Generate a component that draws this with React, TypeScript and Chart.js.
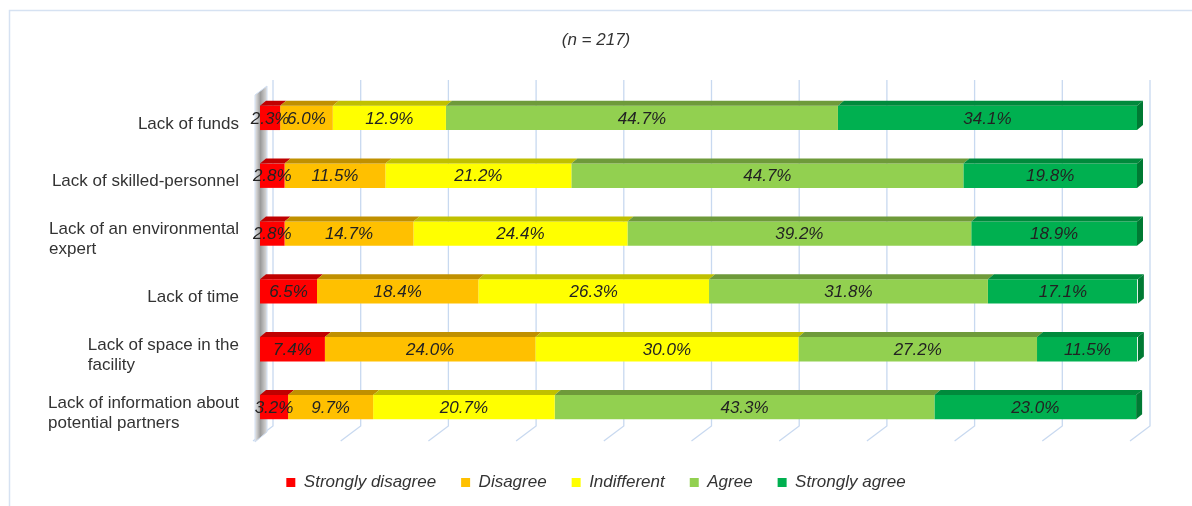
import React, { useEffect, useRef } from "react";
import { Chart, registerables } from "chart.js";
Chart.register(...registerables);

const categories: string[][] = [
  ["Lack of funds"],
  ["Lack of skilled-personnel"],
  ["Lack of an environmental", "expert"],
  ["Lack of time"],
  ["Lack of space in the", "facility"],
  ["Lack of information about", "potential partners"],
];
const seriesNames = ["Strongly disagree", "Disagree", "Indifferent", "Agree", "Strongly agree"];
const stronglyDisagree = [2.3, 2.8, 2.8, 6.5, 7.4, 3.2];
const disagree = [6.0, 11.5, 14.7, 18.4, 24.0, 9.7];
const indifferent = [12.9, 21.2, 24.4, 26.3, 30.0, 20.7];
const agree = [44.7, 44.7, 39.2, 31.8, 27.2, 43.3];
const stronglyAgree = [34.1, 19.8, 18.9, 17.1, 11.5, 23.0];
const gridTicks = [0, 10, 20, 30, 40, 50, 60, 70, 80, 90, 100];
const titleText = "(n = 217)";

const frontColors = ["#FF0000", "#FFC000", "#FFFF00", "#92D050", "#00B050"];
const topColors = ["#C00000", "#C09000", "#C0C000", "#6E9A3A", "#008A3C"];
const sideColor = "#007A33";
const FONT = "'Liberation Sans', Arial, sans-serif";
const TEXT = "#333333";
const DX = 6;
const DY = 5;

const framePlugin = {
  id: "frame",
  beforeDraw(chart: any) {
    const ctx = chart.ctx;
    ctx.save();
    ctx.fillStyle = "#ffffff";
    ctx.fillRect(0, 0, chart.width, chart.height);
    ctx.strokeStyle = "#D6E2F2";
    ctx.lineWidth = 1.5;
    ctx.strokeRect(9.5, 10.5, chart.width + 40, chart.height + 40);
    ctx.restore();
  },
};

const gridPlugin = {
  id: "grid3d",
  beforeDatasetsDraw(chart: any) {
    const ctx = chart.ctx;
    const xs = chart.scales.x;
    const { top, bottom } = chart.chartArea;
    ctx.save();
    ctx.strokeStyle = "#C8D9F0";
    ctx.lineWidth = 1.3;
    gridTicks.forEach((v) => {
      const x = xs.getPixelForValue(v);
      ctx.beginPath();
      ctx.moveTo(x + 13, top - 9);
      ctx.lineTo(x + 13, bottom - 10);
      ctx.lineTo(x - 7, bottom + 5);
      ctx.stroke();
    });
    // left wall
    const x0 = xs.getPixelForValue(0);
    const g = ctx.createLinearGradient(x0 - 5, 0, x0 + 7, 0);
    g.addColorStop(0, "#e8e8e8");
    g.addColorStop(0.45, "#9a9a9a");
    g.addColorStop(1, "#dcdcdc");
    ctx.fillStyle = g;
    ctx.beginPath();
    ctx.moveTo(x0 - 5, top + 6);
    ctx.lineTo(x0 + 7, top - 3);
    ctx.lineTo(x0 + 7, bottom - 4);
    ctx.lineTo(x0 - 5, bottom + 6);
    ctx.closePath();
    ctx.fill();
    ctx.strokeStyle = "#D0DEF2";
    ctx.lineWidth = 1;
    ctx.stroke();
    ctx.restore();
  },
};

const bars3dPlugin = {
  id: "bars3d",
  afterDatasetsDraw(chart: any) {
    const ctx = chart.ctx;
    const last = chart.data.datasets.length - 1;
    ctx.save();
    chart.data.datasets.forEach((_ds: any, di: number) => {
      const meta = chart.getDatasetMeta(di);
      meta.data.forEach((bar: any) => {
        const { x, y, base, height } = bar.getProps(["x", "y", "base", "height"], true);
        const t = y - height / 2;
        const b = y + height / 2;
        const l = Math.min(x, base);
        const r = Math.max(x, base);
        ctx.fillStyle = topColors[di];
        ctx.beginPath();
        ctx.moveTo(l, t);
        ctx.lineTo(l + DX, t - DY);
        ctx.lineTo(r + DX, t - DY);
        ctx.lineTo(r, t);
        ctx.closePath();
        ctx.fill();
        if (di === last) {
          ctx.fillStyle = sideColor;
          ctx.beginPath();
          ctx.moveTo(r, t);
          ctx.lineTo(r + DX, t - DY);
          ctx.lineTo(r + DX, b - DY);
          ctx.lineTo(r, b);
          ctx.closePath();
          ctx.fill();
        }
      });
    });
    // value labels
    ctx.font = `italic 17px ${FONT}`;
    ctx.fillStyle = "#222222";
    ctx.textAlign = "center";
    ctx.textBaseline = "middle";
    chart.data.datasets.forEach((ds: any, di: number) => {
      const meta = chart.getDatasetMeta(di);
      meta.data.forEach((bar: any, i: number) => {
        const { x, y, base } = bar.getProps(["x", "y", "base"], true);
        ctx.fillText(ds.data[i].toFixed(1) + "%", (x + base) / 2, y + 1);
      });
    });
    ctx.restore();
  },
};

const yLabelsPlugin = {
  id: "ylabels",
  afterDraw(chart: any) {
    const ctx = chart.ctx;
    const ys = chart.scales.y;
    const right = chart.chartArea.left - 21;
    ctx.save();
    ctx.font = `17px ${FONT}`;
    ctx.fillStyle = TEXT;
    ctx.textAlign = "left";
    ctx.textBaseline = "middle";
    categories.forEach((lines, i) => {
      const yc = ys.getPixelForValue(i) + 6;
      const w = Math.max(...lines.map((s) => ctx.measureText(s).width));
      const xs = right - w;
      lines.forEach((s, j) => {
        ctx.fillText(s, xs, yc + (j - (lines.length - 1) / 2) * 20);
      });
    });
    ctx.restore();
  },
};

export default function App() {
  const ref = useRef<HTMLCanvasElement | null>(null);
  useEffect(() => {
    if (!ref.current) return;
    const values = [stronglyDisagree, disagree, indifferent, agree, stronglyAgree];
    const chart = new Chart(ref.current, {
      type: "bar",
      data: {
        labels: categories.map((c) => c.join(" ")),
        datasets: seriesNames.map((name, i) => ({
          label: name,
          data: values[i],
          backgroundColor: frontColors[i],
          borderWidth: 0,
          barPercentage: 0.42,
          categoryPercentage: 1,
        })),
      },
      options: {
        indexAxis: "y",
        responsive: false,
        animation: false,
        devicePixelRatio: 1,
        layout: { padding: { top: 0, left: 0, right: 0, bottom: 5 } },
        scales: {
          x: {
            stacked: true,
            min: 0,
            max: 100,
            display: true,
            grid: { display: false },
            border: { display: false },
            ticks: { display: false },
            afterFit: (s: any) => {
              s.height = 13;
            },
          },
          y: {
            stacked: true,
            display: true,
            grid: { display: false },
            border: { display: false },
            ticks: { display: false },
            afterFit: (s: any) => {
              s.width = 260;
            },
          },
          y2: {
            type: "linear",
            position: "right",
            display: true,
            grid: { display: false },
            border: { display: false },
            ticks: { display: false },
            afterFit: (s: any) => {
              s.width = 55;
            },
          },
        } as any,
        plugins: {
          title: {
            display: true,
            text: titleText,
            color: TEXT,
            font: { family: FONT, size: 17, style: "italic", weight: "normal" },
            padding: { top: 30, bottom: 38.6 },
          },
          legend: {
            display: true,
            position: "bottom",
            labels: {
              boxWidth: 9,
              boxHeight: 9,
              padding: 25,
              color: TEXT,
              font: { family: FONT, size: 17, style: "italic" },
            },
          },
          tooltip: { enabled: false },
        },
      },
      plugins: [framePlugin, gridPlugin, bars3dPlugin, yLabelsPlugin],
    });
    return () => chart.destroy();
  }, []);
  return (
    <div style={{ position: "fixed", left: 0, top: 0, width: 1192, height: 506, background: "#fff" }}>
      <canvas ref={ref} width={1192} height={506} style={{ display: "block" }} />
    </div>
  );
}
